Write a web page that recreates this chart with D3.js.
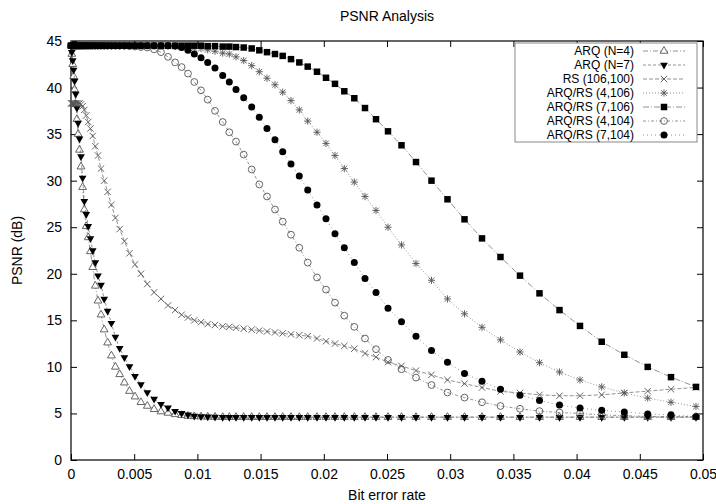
<!DOCTYPE html>
<html>
<head>
<meta charset="utf-8">
<title>PSNR Analysis</title>
<script src="https://d3js.org/d3.v7.min.js"></script>
<style>
  body { margin: 0; background: #fff; }
  svg { font-family: "Liberation Sans", Arial, Helvetica, sans-serif; }
  .tick line { stroke: #000; }
  .tick text { font-size: 14px; fill: #000; }
  .legend text { font-size: 12px; fill: #000; }
</style>
</head>
<body>
<svg id="chart" width="716" height="504"></svg>
<script>
// bit error rate sample points (shared by every curve)
var berValues = [0, 0.000063, 0.000134, 0.000206, 0.000285, 0.000372, 0.000467, 0.000562, 0.000672, 0.000791,
    0.000918, 0.001052, 0.001203, 0.001361, 0.001535, 0.001717, 0.001922, 0.002136, 0.002373, 0.002627,
    0.002896, 0.003196, 0.003513, 0.003853, 0.004225, 0.004628, 0.005063, 0.00553, 0.006036, 0.006574,
    0.00712, 0.007674, 0.008236, 0.00875, 0.009256, 0.009755, 0.010285, 0.010815, 0.011392, 0.012002,
    0.012524, 0.013054, 0.013663, 0.014296, 0.014897, 0.015506, 0.016139, 0.016749, 0.017405, 0.018062,
    0.018727, 0.019462, 0.020174, 0.020886, 0.021622, 0.022413, 0.02326, 0.02413, 0.025079, 0.026147,
    0.027294, 0.028521, 0.029786, 0.031132, 0.032516, 0.033979, 0.035522, 0.037065, 0.038647, 0.040269,
    0.041986, 0.043774, 0.045625, 0.047468, 0.049446];

var arqN4 = [44.5, 43.6, 42.5, 41.2, 39.8, 38.2, 36.6, 35.0, 33.3, 31.5,
    29.3, 26.9, 25.1, 23.9, 22.4, 20.7, 18.7, 17.1, 15.6, 14.0,
    12.6, 11.2, 10.0, 9.2, 8.3, 7.4, 6.8, 6.2, 5.8, 5.45,
    5.2, 5.05, 4.9, 4.8, 4.72, 4.68, 4.65, 4.63, 4.62, 4.6,
    4.6, 4.6, 4.6, 4.6, 4.6, 4.6, 4.6, 4.6, 4.6, 4.6,
    4.6, 4.6, 4.6, 4.6, 4.6, 4.6, 4.6, 4.6, 4.6, 4.6,
    4.6, 4.6, 4.6, 4.6, 4.6, 4.6, 4.6, 4.6, 4.6, 4.6,
    4.6, 4.6, 4.6, 4.6, 4.6];

var arqN7 = [44.5, 43.8, 42.9, 41.9, 40.7, 39.3, 37.8, 36.2, 34.5, 32.6,
    30.3, 27.8, 26.4, 25.1, 23.8, 22.5, 21.2, 19.8, 18.8, 17.3,
    16.0, 14.7, 13.2, 12.0, 11.0, 10.05, 9.0, 8.1, 7.25, 6.55,
    6.0, 5.6, 5.25, 5.03, 4.85, 4.73, 4.67, 4.64, 4.62, 4.6,
    4.6, 4.6, 4.6, 4.6, 4.6, 4.6, 4.6, 4.6, 4.6, 4.6,
    4.6, 4.6, 4.6, 4.6, 4.6, 4.6, 4.6, 4.6, 4.6, 4.6,
    4.6, 4.6, 4.6, 4.6, 4.6, 4.6, 4.6, 4.6, 4.6, 4.6,
    4.6, 4.6, 4.6, 4.6, 4.6];

var rs106100 = [38.3, 38.3, 38.3, 38.3, 38.3, 38.3, 38.3, 38.3, 38.3, 38.2,
    38.0, 37.6, 37.0, 36.3, 35.6, 34.8, 33.7, 32.7, 31.3, 30.0,
    28.8, 27.4, 26.0, 24.8, 23.5, 22.2, 21.0, 20.0, 18.9, 18.0,
    17.3, 16.6, 16.1, 15.6, 15.3, 15.0, 14.8, 14.6, 14.5, 14.35,
    14.3, 14.2, 14.1, 14.0, 13.9, 13.8, 13.7, 13.6, 13.5, 13.4,
    13.3, 13.05, 12.75, 12.5, 12.25, 11.95, 11.45, 11.05, 10.5, 10.1,
    9.6, 9.15, 8.6, 8.2, 7.78, 7.37, 7.2, 7.0, 6.9, 6.9,
    7.0, 7.2, 7.4, 7.6, 7.8];

var arqRs4106 = [44.5, 44.5, 44.5, 44.5, 44.5, 44.5, 44.5, 44.5, 44.5, 44.5,
    44.5, 44.5, 44.5, 44.5, 44.5, 44.5, 44.5, 44.5, 44.5, 44.5,
    44.5, 44.5, 44.5, 44.5, 44.5, 44.5, 44.5, 44.5, 44.5, 44.5,
    44.5, 44.45, 44.4, 44.35, 44.3, 44.25, 44.2, 44.05, 43.9, 43.7,
    43.6, 43.3, 42.9, 42.35, 41.7, 41.0, 40.3, 39.5, 38.6, 37.6,
    36.4, 35.2, 34.0, 32.7, 31.3, 29.85, 28.3, 26.8, 25.0, 23.1,
    21.1, 19.3, 17.3, 15.7, 14.25, 12.9, 11.6, 10.45, 9.45, 8.6,
    7.85, 7.2, 6.65, 6.2, 5.75];

var arqRs7106 = [44.5, 44.5, 44.5, 44.5, 44.5, 44.5, 44.5, 44.5, 44.5, 44.5,
    44.5, 44.5, 44.5, 44.5, 44.5, 44.5, 44.5, 44.5, 44.5, 44.5,
    44.5, 44.5, 44.5, 44.5, 44.5, 44.5, 44.5, 44.5, 44.5, 44.5,
    44.5, 44.5, 44.5, 44.5, 44.5, 44.5, 44.5, 44.45, 44.45, 44.4,
    44.4, 44.35, 44.3, 44.2, 44.0, 43.8, 43.6, 43.4, 43.05, 42.7,
    42.25, 41.7, 41.05, 40.4, 39.6, 38.85, 37.8, 36.6, 35.3, 33.8,
    32.0, 30.0, 28.0, 25.85, 23.8, 21.8, 19.8, 17.9, 16.1, 14.4,
    12.7, 11.3, 10.0, 8.9, 7.85];

var arqRs4104 = [44.5, 44.5, 44.5, 44.5, 44.5, 44.5, 44.5, 44.5, 44.5, 44.5,
    44.5, 44.5, 44.5, 44.5, 44.5, 44.5, 44.5, 44.5, 44.5, 44.5,
    44.5, 44.5, 44.5, 44.5, 44.5, 44.45, 44.4, 44.35, 44.3, 44.1,
    43.8, 43.3, 42.7, 42.2, 41.5, 40.6, 39.7, 38.7, 37.5, 36.3,
    35.2, 34.2, 32.8, 31.2, 29.6, 28.3, 26.9, 25.6, 24.2, 22.8,
    21.2, 19.6, 18.3, 16.9, 15.5, 14.3, 13.05, 11.9, 10.75, 9.75,
    8.85, 8.05, 7.25, 6.7, 6.2, 5.8, 5.5, 5.25, 5.1, 5.0,
    4.85, 4.75, 4.68, 4.65, 4.65];

var arqRs7104 = [44.5, 44.5, 44.5, 44.5, 44.5, 44.5, 44.5, 44.5, 44.5, 44.5,
    44.5, 44.5, 44.5, 44.5, 44.5, 44.5, 44.5, 44.5, 44.5, 44.5,
    44.5, 44.5, 44.5, 44.5, 44.5, 44.5, 44.5, 44.5, 44.5, 44.5,
    44.5, 44.5, 44.45, 44.3, 44.0, 43.6, 43.2, 42.7, 42.1, 41.3,
    40.6, 39.8, 38.9, 37.9, 36.8, 35.6, 34.4, 33.1, 31.8, 30.5,
    29.0, 27.4, 25.9, 24.3, 22.8, 21.2, 19.5, 18.0, 16.3, 14.85,
    13.3, 11.75, 10.5, 9.3, 8.45, 7.6, 6.95, 6.4, 5.9, 5.58,
    5.33, 5.15, 4.95, 4.85, 4.65];

var seriesNames = ["ARQ (N=4)", "ARQ (N=7)", "RS (106,100)", "ARQ/RS (4,106)",
    "ARQ/RS (7,106)", "ARQ/RS (4,104)", "ARQ/RS (7,104)"];
var xTickValues = [0, 0.005, 0.01, 0.015, 0.02, 0.025, 0.03, 0.035, 0.04, 0.045, 0.05];
var xTickLabels = ["0", "0.005", "0.01", "0.015", "0.02", "0.025", "0.03", "0.035", "0.04", "0.045", "0.05"];
var yTickValues = [0, 5, 10, 15, 20, 25, 30, 35, 40, 45];

var seriesValues = [arqN4, arqN7, rs106100, arqRs4106, arqRs7106, arqRs4104, arqRs7104];
var markers = ["triUp", "triDown", "cross", "star", "square", "circleOpen", "circleFilled"];
var dashes = ["5,2,1,2", "3,2", "4,2", "1,2", "6,2,1,2", "3,2,1,2", "1,3"];

var plotLeft = 71, plotRight = 703, plotTop = 41, plotBottom = 460;

var svg = d3.select("#chart");

var x = d3.scaleLinear().domain([0, 0.05]).range([plotLeft, plotRight]);
var y = d3.scaleLinear().domain([0, 45]).range([plotBottom, plotTop]);

// axes with inward ticks, mirrored on top and right
svg.append("g")
    .attr("transform", "translate(0," + plotBottom + ")")
    .call(d3.axisBottom(x).tickValues(xTickValues)
        .tickFormat(function(d, i) { return xTickLabels[i]; })
        .tickSizeInner(-6).tickSizeOuter(0).tickPadding(9))
    .call(function(g) { g.select(".domain").remove(); });

svg.append("g")
    .attr("transform", "translate(0," + plotTop + ")")
    .call(d3.axisTop(x).tickValues(xTickValues).tickFormat("")
        .tickSizeInner(-6).tickSizeOuter(0))
    .call(function(g) { g.select(".domain").remove(); });

svg.append("g")
    .attr("transform", "translate(" + plotLeft + ",0)")
    .call(d3.axisLeft(y).tickValues(yTickValues)
        .tickSizeInner(-6).tickSizeOuter(0).tickPadding(9))
    .call(function(g) { g.select(".domain").remove(); });

svg.append("g")
    .attr("transform", "translate(" + plotRight + ",0)")
    .call(d3.axisRight(y).tickValues(yTickValues).tickFormat("")
        .tickSizeInner(-6).tickSizeOuter(0))
    .call(function(g) { g.select(".domain").remove(); });

svg.selectAll("g").attr("font-family", null).attr("font-size", null);

svg.append("rect")
    .attr("x", plotLeft).attr("y", plotTop)
    .attr("width", plotRight - plotLeft).attr("height", plotBottom - plotTop)
    .attr("fill", "none").attr("stroke", "#000").attr("stroke-width", 1.2);

// labels
svg.append("text")
    .attr("x", (plotLeft + plotRight) / 2).attr("y", 21)
    .attr("text-anchor", "middle").style("font-size", "14px")
    .text("PSNR Analysis");

svg.append("text")
    .attr("x", (plotLeft + plotRight) / 2).attr("y", 500)
    .attr("text-anchor", "middle").style("font-size", "14px")
    .text("Bit error rate");

svg.append("text")
    .attr("transform", "translate(22," + ((plotTop + plotBottom) / 2) + ") rotate(-90)")
    .attr("text-anchor", "middle").style("font-size", "14px")
    .text("PSNR (dB)");

function drawMarker(g, type) {
    if (type === "triUp") {
        g.append("path").attr("d", d3.symbol().type(d3.symbolTriangle).size(26)())
            .attr("fill", "#fff").attr("stroke", "#555").attr("stroke-width", 0.9);
    } else if (type === "triDown") {
        g.append("path").attr("d", d3.symbol().type(d3.symbolTriangle).size(26)())
            .attr("transform", "rotate(180)").attr("fill", "#000");
    } else if (type === "cross") {
        g.append("path").attr("d", "M-3.2,-3.2L3.2,3.2M-3.2,3.2L3.2,-3.2")
            .attr("stroke", "#555").attr("stroke-width", 0.9);
    } else if (type === "star") {
        g.append("path").attr("d", "M-3.6,0H3.6M0,-3.6V3.6M-2.8,-2.8L2.8,2.8M-2.8,2.8L2.8,-2.8")
            .attr("stroke", "#555").attr("stroke-width", 0.9);
    } else if (type === "square") {
        g.append("path").attr("d", d3.symbol().type(d3.symbolSquare).size(42)())
            .attr("fill", "#000");
    } else if (type === "circleOpen") {
        g.append("circle").attr("r", 3.4)
            .attr("fill", "none").attr("stroke", "#555").attr("stroke-width", 0.9);
    } else {
        g.append("circle").attr("r", 3.5).attr("fill", "#000");
    }
}

var line = d3.line()
    .x(function(d) { return x(d[0]); })
    .y(function(d) { return y(d[1]); });

seriesValues.forEach(function(vals, s) {
    var pts = berValues.map(function(b, i) { return [b, vals[i]]; });
    var g = svg.append("g").attr("class", "series");
    g.append("path")
        .datum(pts)
        .attr("d", line)
        .attr("fill", "none")
        .attr("stroke", "#777")
        .attr("stroke-width", 0.8)
        .attr("stroke-dasharray", dashes[s]);
    g.selectAll("g.pt")
        .data(pts)
        .enter().append("g")
        .attr("class", "pt")
        .attr("transform", function(d) { return "translate(" + x(d[0]) + "," + y(d[1]) + ")"; })
        .each(function() { drawMarker(d3.select(this), markers[s]); });
});

// legend
var legend = svg.append("g").attr("class", "legend");
legend.append("rect")
    .attr("x", 515).attr("y", 43).attr("width", 182).attr("height", 99)
    .attr("fill", "#fff").attr("stroke", "#888").attr("stroke-width", 1);

var rows = legend.selectAll("g.row")
    .data(seriesNames)
    .enter().append("g")
    .attr("class", "row")
    .attr("transform", function(d, i) { return "translate(0," + (51 + i * 14) + ")"; });

rows.append("text")
    .attr("x", 634).attr("dy", "0.35em")
    .attr("text-anchor", "end")
    .text(function(d) { return d; });

rows.append("line")
    .attr("x1", 643).attr("x2", 685)
    .attr("stroke", "#777").attr("stroke-width", 0.8)
    .attr("stroke-dasharray", function(d, i) { return dashes[i]; });

rows.append("g")
    .attr("transform", "translate(664,0)")
    .each(function(d, i) { drawMarker(d3.select(this), markers[i]); });
</script>
</body>
</html>
